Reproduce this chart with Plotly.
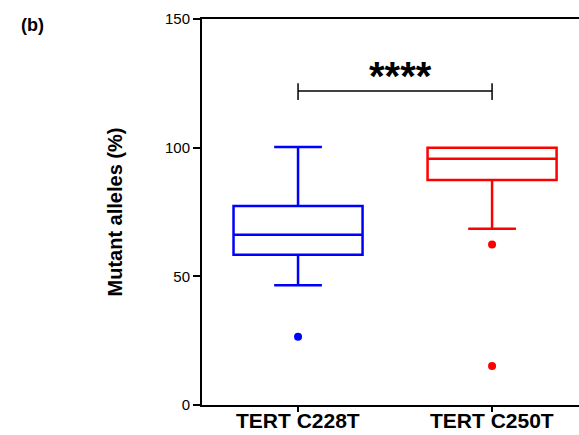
import plotly.graph_objects as go

categories = ["TERT C228T", "TERT C250T"]
positions = [0, 1]
colors = ["#0000FF", "#FF0000"]
lower_whisker = [46.5, 68.5]
q1_vals = [58.4, 87.4]
medians = [66.2, 95.7]
q3_vals = [77.3, 100.0]
upper_whisker = [100.3, 100.0]
outliers = [[26.5], [62.4, 15.2]]
y_ticks = [0, 50, 100, 150]
sig_label = "****"
sig_y = 122

fig = go.Figure()
for i, cat in enumerate(categories):
    fig.add_trace(go.Box(
        x=[positions[i]], q1=[q1_vals[i]], median=[medians[i]], q3=[q3_vals[i]],
        lowerfence=[lower_whisker[i]], upperfence=[upper_whisker[i]],
        width=0.665, whiskerwidth=0.37,
        line=dict(color=colors[i], width=2.5),
        fillcolor="rgba(0,0,0,0)", boxpoints=False, showlegend=False,
        hoverinfo="skip",
    ))
    fig.add_trace(go.Scatter(
        x=[positions[i]] * len(outliers[i]), y=outliers[i], mode="markers",
        marker=dict(color=colors[i], size=8), showlegend=False,
    ))
    # category label under the axis
    fig.add_annotation(x=positions[i], xref="x", y=0, yref="paper", yanchor="top",
                       yshift=-3, text="<b>" + cat + "</b>", showarrow=False,
                       borderpad=0, font=dict(size=21, color="black"))

# significance bracket
fig.add_trace(go.Scatter(x=[positions[0], positions[1]], y=[sig_y, sig_y], mode="lines",
                         line=dict(color="black", width=1.5), showlegend=False))
for p in positions:
    fig.add_trace(go.Scatter(x=[p, p], y=[sig_y - 3.5, sig_y + 3], mode="lines",
                             line=dict(color="black", width=1.5), showlegend=False))
fig.add_annotation(x=0.526, y=sig_y - 3.5, text="<b>" + sig_label + "</b>", showarrow=False,
                   yanchor="bottom", font=dict(size=40, color="black"))

fig.add_annotation(xref="paper", yref="paper", x=-0.45, y=0.985, text="<b>(b)</b>",
                   showarrow=False, xanchor="center", yanchor="middle",
                   font=dict(size=18, color="black"))

fig.update_layout(
    width=579, height=435,
    margin=dict(l=202, r=0, t=19, b=30),
    paper_bgcolor="white", plot_bgcolor="white",
    font=dict(family="Liberation Sans, Arial, sans-serif", color="black"),
    xaxis=dict(range=[-0.495, 1.448], tickvals=positions, showticklabels=False,
               automargin=False, showline=True, linecolor="black", linewidth=2,
               mirror=True, ticks="outside", ticklen=5, tickwidth=1.5, tickcolor="black",
               showgrid=False, zeroline=False),
    yaxis=dict(range=[0, 150], tickvals=y_ticks, tickfont=dict(size=15), automargin=False,
               showline=True, linecolor="black", linewidth=2, ticks="outside",
               ticklen=7, tickwidth=1.5, tickcolor="black", showgrid=False, zeroline=False,
               title=dict(text="<b>Mutant alleles (%)</b>", font=dict(size=20), standoff=37)),
)

fig.write_html("out.html", config={"displayModeBar": False},
               post_script="document.body.style.margin='0';")
